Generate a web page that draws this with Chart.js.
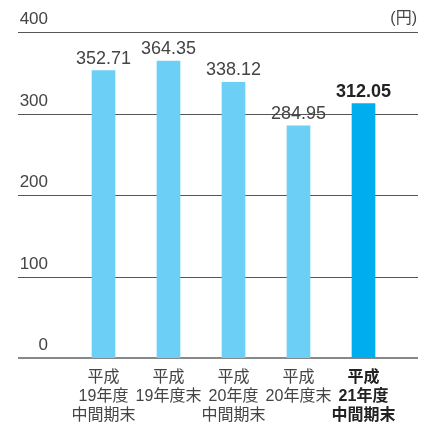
<!DOCTYPE html>
<html><head><meta charset="utf-8">
<script src="https://cdn.jsdelivr.net/npm/chart.js@4/dist/chart.umd.min.js"></script>
<style>html,body{margin:0;padding:0;background:#fff}#wrap{width:430px;height:425px}</style>
</head><body><div id="wrap"><canvas id="c" width="430" height="425"></canvas></div>
<script>
const categories = [["平成","19年度","中間期末"],["平成","19年度末"],["平成","20年度","中間期末"],["平成","20年度末"],["平成","21年度","中間期末"]];
const values = [352.71, 364.35, 338.12, 284.95, 312.05];
const valueLabels = ["352.71","364.35","338.12","284.95","312.05"];
const yTicks = [0, 100, 200, 300, 400];
const unitLabel = "(円)";
const highlightIndex = 4;

const FONT = "'Liberation Sans', 'Noto Sans CJK JP', sans-serif";
const LIGHT = "#6cd0f6";
const DARK = "#00aeef";

const overlay = {
  id: 'overlay',
  beforeDatasetsDraw(chart) {
    const ctx = chart.ctx, y = chart.scales.y;
    const L = 18, R = 418;
    ctx.save();
    yTicks.forEach(v => {
      const py = Math.round(y.getPixelForValue(v));
      ctx.strokeStyle = v === 0 ? '#888' : '#555';
      ctx.lineWidth = v === 0 ? 2 : 1;
      ctx.beginPath();
      ctx.moveTo(L, py + (v === 0 ? 0 : 0.5));
      ctx.lineTo(R, py + (v === 0 ? 0 : 0.5));
      ctx.stroke();
      ctx.fillStyle = '#444';
      ctx.font = "17px " + FONT;
      ctx.textBaseline = 'alphabetic';
      ctx.textAlign = 'right';
      ctx.fillText(String(v), 48, py - 8);
    });
    ctx.textAlign = 'right';
    ctx.font = "16px " + FONT;
    ctx.fillText(unitLabel, R - 1, y.getPixelForValue(400) - 9);
    ctx.restore();
  },
  afterDatasetsDraw(chart) {
    const ctx = chart.ctx;
    const meta = chart.getDatasetMeta(0);
    ctx.save();
    ctx.textAlign = 'center';
    ctx.textBaseline = 'alphabetic';
    meta.data.forEach((bar, i) => {
      const hi = i === highlightIndex;
      ctx.font = (hi ? "bold " : "") + "18px " + FONT;
      ctx.fillStyle = hi ? '#222' : '#444';
      ctx.fillText(valueLabels[i], bar.x, bar.y - 7);
    });
    ctx.restore();
  }
};

new Chart(document.getElementById('c'), {
  type: 'bar',
  data: {
    labels: categories,
    datasets: [{
      data: values,
      backgroundColor: values.map((v, i) => i === highlightIndex ? DARK : LIGHT),
      barThickness: 23,
      borderWidth: 0
    }]
  },
  options: {
    responsive: false,
    animation: false,
    devicePixelRatio: 1,
    layout: { padding: { top: 32, left: 71, right: 34, bottom: 0 } },
    plugins: { legend: { display: false }, tooltip: { enabled: false } },
    scales: {
      x: {
        offset: true,
        border: { display: false },
        grid: { display: false, drawTicks: false },
        afterFit(s) { s.height = 67; },
        ticks: {
          autoSkip: false, maxRotation: 0, minRotation: 0, padding: 10,
          color: (c) => c.index === highlightIndex ? '#222' : '#444',
          font: (c) => ({ family: FONT, size: 16, lineHeight: '19px', weight: c.index === highlightIndex ? 'bold' : 'normal' })
        }
      },
      y: {
        display: false,
        min: 0, max: 400,
        afterBuildTicks(s) { s.ticks = yTicks.map(v => ({ value: v })); }
      }
    }
  },
  plugins: [overlay]
});
</script>
</body></html>
